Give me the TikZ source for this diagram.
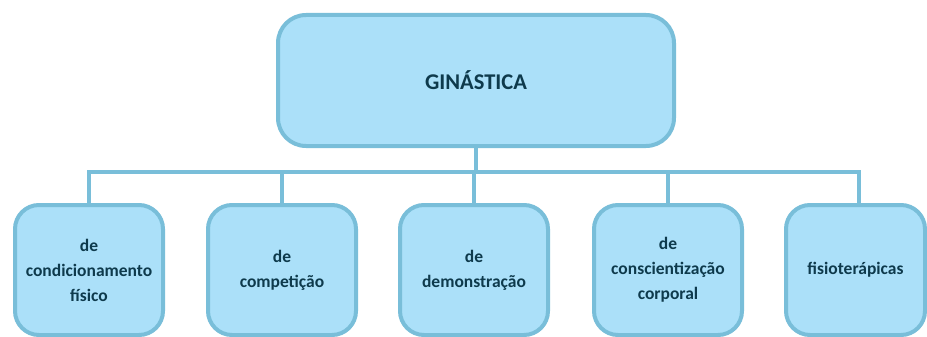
\documentclass[tikz,border=0pt]{standalone}
\usepackage{fontspec}
\setmainfont{Carlito}
\definecolor{boxfill}{HTML}{ABE0F9}
\definecolor{boxline}{HTML}{79BED9}
\definecolor{txt}{HTML}{0E3A4C}
\begin{document}
\begin{tikzpicture}[x=1pt,y=-1pt,
  topbox/.style={draw=boxline, fill=boxfill, line width=4pt, rounded corners=28pt,
    minimum width=396pt, minimum height=131pt, inner sep=0pt, text=txt,
    font=\fontsize{22.5}{27}\selectfont\bfseries},
  subbox/.style={draw=boxline, fill=boxfill, line width=4pt, rounded corners=24pt,
    minimum width=148pt, minimum height=130pt, inner sep=0pt, text=txt, align=center,
    font=\fontsize{17.5}{25}\selectfont\bfseries},
  link/.style={draw=boxline, line width=3.5pt}]
\useasboundingbox (0,0) rectangle (927,337);
\coordinate (bus) at (0,172);
\node[topbox] (top) at (476,80.5) {GINÁSTICA};
\node[subbox] (b1) at (89,270) {de\\condicionamento\\físico};
\node[subbox] (b2) at (282,270) {de\\competição};
\node[subbox] (b3) at (474,270) {de\\demonstração};
\node[subbox] (b4) at (668,270) {de\\conscientização\\corporal};
\node[subbox, minimum width=139pt] (b5) at (855.5,270) {fisioterápicas};
\draw[link] (top.south) -- (top.south |- bus);
\draw[link] (b1.north) -- (b1.north |- bus) -- ([xshift=3.5pt]b5.north |- bus) -- ([xshift=3.5pt]b5.north);
\draw[link] (b2.north) -- (b2.north |- bus);
\draw[link] (b3.north) -- (b3.north |- bus);
\draw[link] (b4.north) -- (b4.north |- bus);
\end{tikzpicture}
\end{document}
